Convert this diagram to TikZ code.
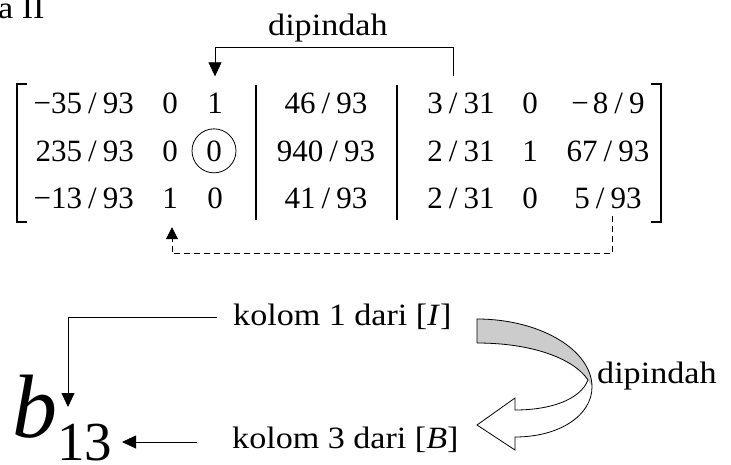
\documentclass[tikz,border=0pt]{standalone}
\usepackage{fontspec}
\setmainfont{Liberation Serif}
\newfontfamily\lblfont[FakeStretch=1.1]{Liberation Serif}
\usetikzlibrary{arrows.meta}

% fraction written with a spaced slash, as in the tableau
\newcommand{\slfr}[2]{#1\kern6pt/\kern6pt#2}

\tikzset{
  entry/.style={font=\fontsize{31}{31}\selectfont, inner sep=0pt, anchor=base},
  lbl/.style={font=\lblfont\fontsize{31}{31}\selectfont, inner sep=0pt, anchor=base west},
  conn/.style={line width=0.8pt, -{Triangle[width=13pt,length=14pt]}},
  dconn/.style={line width=0.8pt, dash pattern=on 6pt off 4pt, -{Triangle[width=12pt,length=12pt]}},
  rule/.style={line width=1.2pt},
  band/.style={line width=0.8pt},
}

\begin{document}
\begin{tikzpicture}[x=1pt,y=-1pt]
\useasboundingbox (0,0) rectangle (731,464);

% heading, cut at the page edge
\node[lbl] (hdr) at (-2,18) {a II};

% ---- tableau entries (baselines 113, 161, 208) ----
\node[entry, anchor=base east] (c11) at (134,113) {−\slfr{35}{93}};
\node[entry] (c12) at (170,113) {0};
\node[entry] (c13) at (215,113) {1};
\node[entry] (c14) at (326,113) {\slfr{46}{93}};
\node[entry] (c15) at (461,113) {\slfr{3}{31}};
\node[entry] (c16) at (530,113) {0};
\node[entry] (c17) at (608,113) {−\kern4pt\slfr{8}{9}};

\node[entry, anchor=base east] (c21) at (134,161) {\slfr{235}{93}};
\node[entry] (c22) at (170,161) {0};
\node[entry] (c23) at (214,161) {0};
\node[entry] (c24) at (326,161) {\slfr{940}{93}};
\node[entry] (c25) at (461,161) {\slfr{2}{31}};
\node[entry] (c26) at (530,161) {1};
\node[entry] (c27) at (608,161) {\slfr{67}{93}};

\node[entry, anchor=base east] (c31) at (134,208) {−\slfr{13}{93}};
\node[entry] (c32) at (170,208) {1};
\node[entry] (c33) at (215,208) {0};
\node[entry] (c34) at (326,208) {\slfr{41}{93}};
\node[entry] (c35) at (461,208) {\slfr{2}{31}};
\node[entry] (c36) at (530,208) {0};
\node[entry] (c37) at (608,208) {\slfr{5}{93}};

% pivot ring
\node[circle, draw, line width=0.8pt, minimum size=44pt, inner sep=0pt] (ring) at (c23.center) {};

% brackets and partition bars
\draw[rule] (27,84) -- (17,84) -- (17,222) -- (27,222);
\draw[rule] (651,84) -- (661,84) -- (661,222) -- (651,222);
\draw[rule] (256,85) -- (256,220);
\draw[rule] (397,85) -- (397,220);

% column moved into the basis
\node[lbl] (mv1) at (268,35) {dipindah};
\path (c13.north) ++(0,-16) coordinate (inT);
\path (c15.north) ++(-8,-16) coordinate (outT);
\draw[conn] (outT) -- ++(0,-29) -| (inT);

% column returned (dashed)
\path (c37.south) ++(4,7) coordinate (outB);
\path (c32.south) ++(2,19) coordinate (inB);
\draw[dconn] (outB) -- ++(0,38) -| (inB);

% ---- lower part: building b_13 ----
\node[inner sep=0pt, anchor=base west] (b13) at (12,437)
  {\fontsize{90}{90}\selectfont\itshape b\raisebox{-23pt}{\upshape\fontsize{55}{55}\selectfont 13}};
\node[lbl] (k1) at (233,325) {kolom 1 dari [\textit{I}]};
\node[lbl] (k3) at (232,448) {kolom 3 dari [\textit{B}]};

\path (k1.base west) ++(-16,-8) coordinate (k1s);
\path (b13.base west) ++(56,-30) coordinate (bIn1);
\draw[conn] (k1s) -| (bIn1);

\path (k3.base west) ++(-35,-6) coordinate (k3s);
\path (b13.base west) ++(110,5) coordinate (bIn2);
\draw[conn] (k3s) -- (bIn2);

% curved band arrow
\fill[black!20] (477,319) .. controls (540,319) and (592,350) .. (592,387)
  -- (588,380) .. controls (575,360) and (535,343) .. (477,343) -- cycle;
\draw[band, line join=miter] (477,343) -- (477,319)
  .. controls (540,319) and (592,350) .. (592,387)
  .. controls (592,415) and (560,437) .. (515,437)
  -- (515,450) -- (477,425) -- (515,398) -- (515,410)
  .. controls (550,410) and (580,400) .. (588,380)
  .. controls (575,360) and (535,343) .. (477,343);
\node[lbl] (mv2) at (597,383) {dipindah};
\end{tikzpicture}
\end{document}
